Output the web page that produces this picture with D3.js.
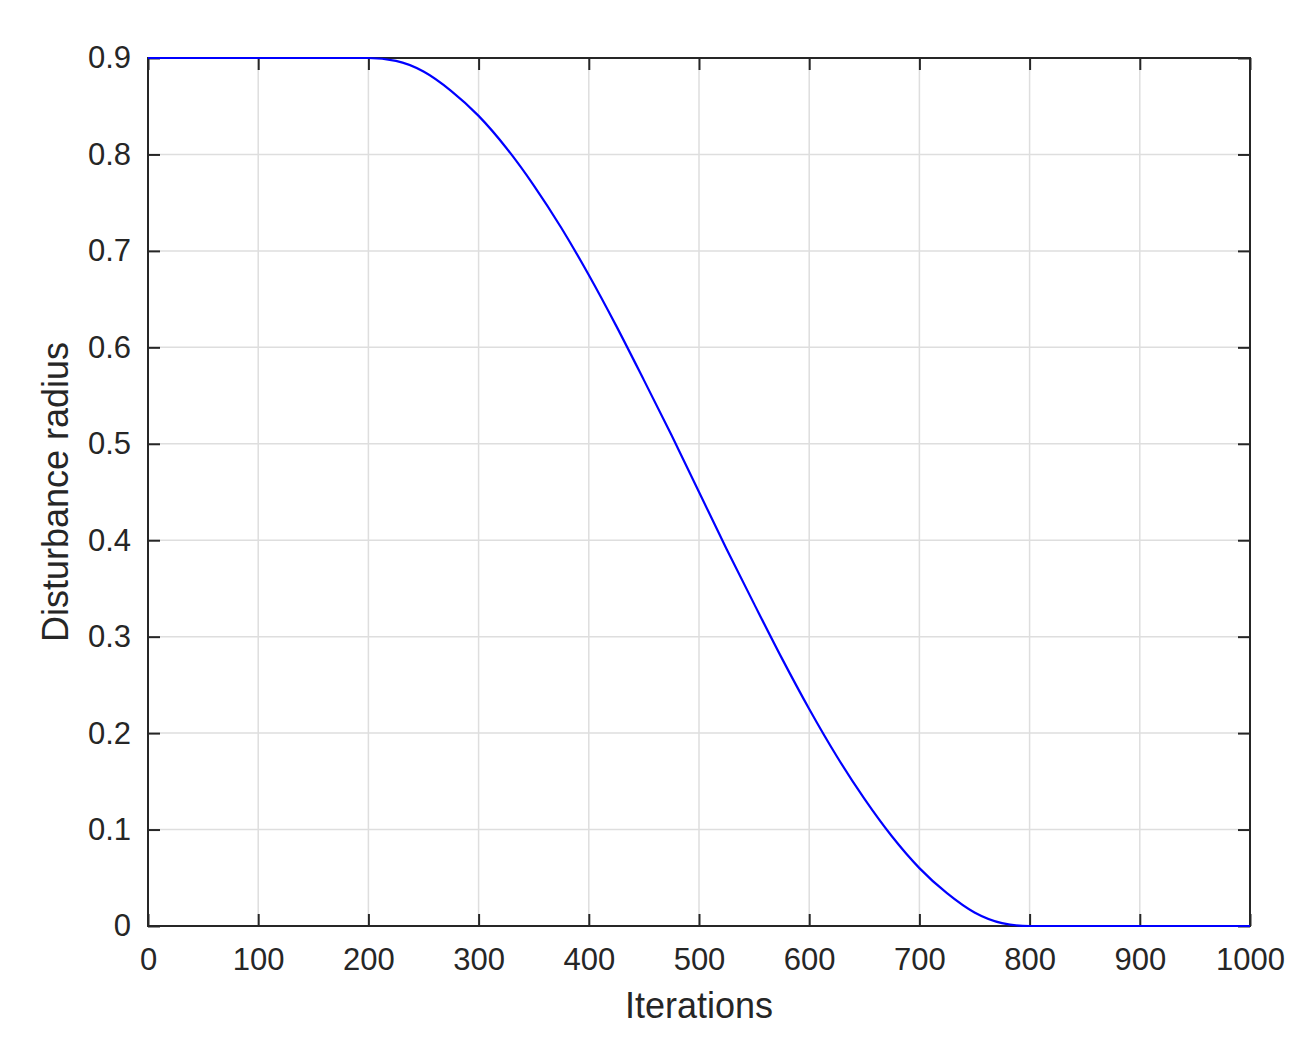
<!DOCTYPE html>
<html>
<head>
<meta charset="utf-8">
<script src="https://cdn.jsdelivr.net/npm/d3@7"></script>
<style>
  body { margin: 0; background: #fff; }
  svg text { font-family: "Liberation Sans", Arial, sans-serif; fill: #262626; }
</style>
</head>
<body>
<div id="chart"></div>
<script>
// values
const iterations = [0, 200, 225, 250, 275, 300, 325, 350, 375, 400, 425, 450, 475, 500,
                    525, 550, 575, 600, 625, 650, 675, 700, 725, 750, 775, 800, 1000];
const radius = [0.9, 0.9, 0.897, 0.886, 0.866, 0.840, 0.807, 0.768, 0.724, 0.675, 0.622, 0.566, 0.509, 0.45,
                0.391, 0.334, 0.278, 0.225, 0.176, 0.132, 0.093, 0.060, 0.034, 0.014, 0.003, 0, 0];

const xTicks = [0, 100, 200, 300, 400, 500, 600, 700, 800, 900, 1000];
const yTicks = [0, 0.1, 0.2, 0.3, 0.4, 0.5, 0.6, 0.7, 0.8, 0.9];
const yTickLabels = ["0", "0.1", "0.2", "0.3", "0.4", "0.5", "0.6", "0.7", "0.8", "0.9"];

const width = 1315, height = 1057;
const margin = {top: 58, right: 65, bottom: 131, left: 148};
const w = width - margin.left - margin.right;
const h = height - margin.top - margin.bottom;
const tickLen = 12;

const svg = d3.select("#chart").append("svg")
    .attr("width", width)
    .attr("height", height);

const g = svg.append("g")
    .attr("transform", "translate(" + margin.left + "," + margin.top + ")");

const x = d3.scaleLinear().domain([0, 1000]).range([0, w]);
const y = d3.scaleLinear().domain([0, 0.9]).range([h, 0]);

// grid
g.append("g")
  .selectAll("line")
  .data(xTicks)
  .enter().append("line")
    .attr("x1", d => x(d)).attr("x2", d => x(d))
    .attr("y1", 0).attr("y2", h)
    .attr("stroke", "#dedede")
    .attr("stroke-width", 1.5);

g.append("g")
  .selectAll("line")
  .data(yTicks)
  .enter().append("line")
    .attr("x1", 0).attr("x2", w)
    .attr("y1", d => y(d)).attr("y2", d => y(d))
    .attr("stroke", "#dedede")
    .attr("stroke-width", 1.5);

// axes, ticks inward on all four sides
function styleAxis(sel) {
  sel.select(".domain").remove();
  sel.selectAll(".tick line").attr("stroke", "#262626").attr("stroke-width", 2);
}

g.append("g")
    .attr("transform", "translate(0," + h + ")")
    .call(d3.axisBottom(x).tickValues(xTicks).tickSizeInner(-tickLen).tickSizeOuter(0)
      .tickPadding(tickLen + 10)
      .tickFormat(d3.format("d")))
    .call(styleAxis)
    .call(a => a.selectAll("text").style("font-size", "31px").attr("fill", "#262626"));

g.append("g")
    .call(d3.axisTop(x).tickValues(xTicks).tickSizeInner(-tickLen).tickSizeOuter(0).tickFormat(""))
    .call(styleAxis);

g.append("g")
    .call(d3.axisLeft(y).tickValues(yTicks).tickSizeInner(-tickLen).tickSizeOuter(0)
      .tickPadding(tickLen + 5)
      .tickFormat((d, i) => yTickLabels[i]))
    .call(styleAxis)
    .call(a => a.selectAll("text").style("font-size", "31px").attr("fill", "#262626"));

g.append("g")
    .attr("transform", "translate(" + w + ",0)")
    .call(d3.axisRight(y).tickValues(yTicks).tickSizeInner(-tickLen).tickSizeOuter(0).tickFormat(""))
    .call(styleAxis);

// frame
g.append("rect")
    .attr("x", 0).attr("y", 0)
    .attr("width", w).attr("height", h)
    .attr("fill", "none")
    .attr("stroke", "#262626")
    .attr("stroke-width", 2);

// curve
const line = d3.line()
    .x((d, i) => x(iterations[i]))
    .y(d => y(d))
    .curve(d3.curveMonotoneX);

g.append("path")
    .datum(radius)
    .attr("d", line)
    .attr("fill", "none")
    .attr("stroke", "#0000ff")
    .attr("stroke-width", 2.2);

// axis labels
svg.append("text")
    .attr("x", margin.left + w / 2)
    .attr("y", 1018)
    .attr("text-anchor", "middle")
    .style("font-size", "36px")
    .text("Iterations");

svg.append("text")
    .attr("transform", "translate(68," + (margin.top + h / 2) + ") rotate(-90)")
    .attr("text-anchor", "middle")
    .style("font-size", "36px")
    .text("Disturbance radius");
</script>
</body>
</html>
